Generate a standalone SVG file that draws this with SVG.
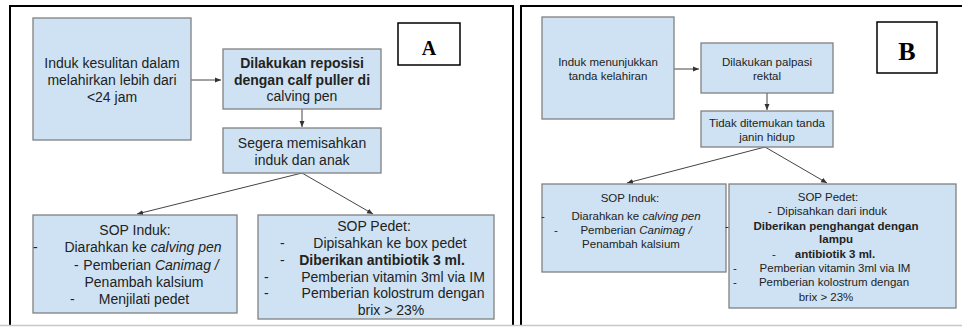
<svg xmlns="http://www.w3.org/2000/svg" width="962" height="327" viewBox="0 0 962 327">
<defs>
<marker id="ah" markerUnits="userSpaceOnUse" markerWidth="7" markerHeight="6" refX="6" refY="3" orient="auto">
<path d="M0,0.5 L6,3 L0,5.5 z" fill="#333"/>
</marker>
<style>
.box{fill:#cfe2f3;stroke:#808080;stroke-width:1.3}
.lblbox{fill:#fff;stroke:#000;stroke-width:1.5}
.frame{fill:none;stroke:#000;stroke-width:2}
.t{font-family:"Liberation Sans",Arial,sans-serif;font-size:14px;fill:#222;text-anchor:middle}
.s{font-size:11.5px}
.d{text-anchor:start}
.b{font-weight:bold}
.i{font-style:italic}
.lbl{font-family:"Liberation Serif","Times New Roman",serif;font-weight:bold;fill:#000;text-anchor:middle}
.c{fill:none;stroke:#444;stroke-width:1}
</style>
</defs>
<rect width="962" height="327" fill="#fff"/>
<g id="frames">
<path class="frame" d="M10,326 V6 H513 V326"/>
<path class="frame" d="M521,326 V6 H962"/>
<line x1="0" y1="325.5" x2="962" y2="325.5" stroke="#c8c8c8" stroke-width="1.5"/>
</g>
<g id="connectors">
<line class="c" x1="191" y1="80" x2="221" y2="80" marker-end="url(#ah)"/>
<line class="c" x1="302" y1="109" x2="302" y2="127" marker-end="url(#ah)"/>
<line class="c" x1="302" y1="173" x2="137" y2="214" marker-end="url(#ah)"/>
<line class="c" x1="302" y1="173" x2="373" y2="214" marker-end="url(#ah)"/>
<line class="c" x1="674" y1="69" x2="699" y2="69" marker-end="url(#ah)"/>
<line class="c" x1="767" y1="93" x2="767" y2="110" marker-end="url(#ah)"/>
<line class="c" x1="765" y1="147" x2="627" y2="183" marker-end="url(#ah)"/>
<line class="c" x1="765" y1="147" x2="827" y2="183" marker-end="url(#ah)"/>
</g>
<g id="a-start">
<rect class="box" x="33" y="18" width="158" height="122"/>
<text class="t" x="112" y="68">Induk kesulitan dalam</text>
<text class="t" x="112" y="85">melahirkan lebih dari</text>
<text class="t" x="112" y="102">&lt;24 jam</text>
</g>
<g id="a-reposisi">
<rect class="box" x="223" y="49" width="158" height="60"/>
<text class="t b" x="302" y="68">Dilakukan reposisi</text>
<text class="t b" x="302" y="85">dengan calf puller di</text>
<text class="t" x="302" y="101">calving pen</text>
</g>
<g id="a-pisah">
<rect class="box" x="223" y="128" width="158" height="45"/>
<text class="t" x="302" y="148">Segera memisahkan</text>
<text class="t" x="302" y="165">induk dan anak</text>
</g>
<g id="a-label">
<rect class="lblbox" x="398" y="23" width="62" height="42"/>
<text class="lbl" x="429" y="55" font-size="20">A</text>
</g>
<g id="a-sop-induk">
<rect class="box" x="33" y="215" width="204" height="98"/>
<text class="t" x="135" y="235">SOP Induk:</text>
<text class="t d" x="33" y="252">-</text>
<text class="t" x="143" y="252">Diarahkan ke <tspan class="i">calving pen</tspan></text>
<text class="t d" x="74" y="270">-</text>
<text class="t" x="151" y="270">Pemberian <tspan class="i">Canimag /</tspan></text>
<text class="t" x="144" y="287">Penambah kalsium</text>
<text class="t d" x="70" y="304">-</text>
<text class="t" x="144" y="304">Menjilati pedet</text>
</g>
<g id="a-sop-pedet">
<rect class="box" x="258" y="215" width="236" height="104"/>
<text class="t" x="374" y="231">SOP Pedet:</text>
<text class="t d" x="280" y="248">-</text>
<text class="t" x="390" y="248">Dipisahkan ke box pedet</text>
<text class="t d" x="280" y="265">-</text>
<text class="t b" x="382" y="265">Diberikan antibiotik 3 ml.</text>
<text class="t d" x="264" y="282">-</text>
<text class="t" x="393" y="282">Pemberian vitamin 3ml via IM</text>
<text class="t d" x="264" y="298">-</text>
<text class="t" x="393" y="298">Pemberian kolostrum dengan</text>
<text class="t" x="391" y="315">brix &gt; 23%</text>
</g>
<g id="b-start">
<rect class="box" x="542" y="17" width="132" height="102"/>
<text class="t s" x="608" y="66">Induk menunjukkan</text>
<text class="t s" x="608" y="80">tanda kelahiran</text>
</g>
<g id="b-palpasi">
<rect class="box" x="701" y="43" width="132" height="50"/>
<text class="t s" x="767" y="66">Dilakukan palpasi</text>
<text class="t s" x="767" y="80">rektal</text>
</g>
<g id="b-tidak">
<rect class="box" x="701" y="111" width="132" height="36"/>
<text class="t s" x="767" y="127">Tidak ditemukan tanda</text>
<text class="t s" x="767" y="141">janin hidup</text>
</g>
<g id="b-label">
<rect class="lblbox" x="877" y="22" width="60" height="51"/>
<text class="lbl" x="907" y="60" font-size="26">B</text>
</g>
<g id="b-sop-induk">
<rect class="box" x="542" y="184" width="184" height="88"/>
<text class="t s" x="630" y="202">SOP Induk:</text>
<text class="t s d" x="541" y="220">-</text>
<text class="t s" x="636" y="220">Diarahkan ke <tspan class="i">calving pen</tspan></text>
<text class="t s d" x="554" y="234">-</text>
<text class="t s" x="636" y="234">Pemberian <tspan class="i">Canimag /</tspan></text>
<text class="t s" x="631" y="248">Penambah kalsium</text>
</g>
<g id="b-sop-pedet">
<rect class="box" x="729" y="184" width="227" height="124"/>
<text class="t s" x="828" y="201">SOP Pedet:</text>
<text class="t s d" x="768" y="215">-</text>
<text class="t s" x="832" y="215">Dipisahkan dari induk</text>
<text class="t s d" x="725" y="230">-</text>
<text class="t s b" x="836" y="230">Diberikan penghangat dengan</text>
<text class="t s b" x="836" y="243">lampu</text>
<text class="t s d" x="772" y="258">-</text>
<text class="t s b" x="835" y="258">antibiotik 3 ml.</text>
<text class="t s d" x="733" y="272">-</text>
<text class="t s" x="835" y="272">Pemberian vitamin 3ml via IM</text>
<text class="t s d" x="733" y="286">-</text>
<text class="t s" x="834" y="286">Pemberian kolostrum dengan</text>
<text class="t s" x="826" y="301">brix &gt; 23%</text>
</g>
</svg>
